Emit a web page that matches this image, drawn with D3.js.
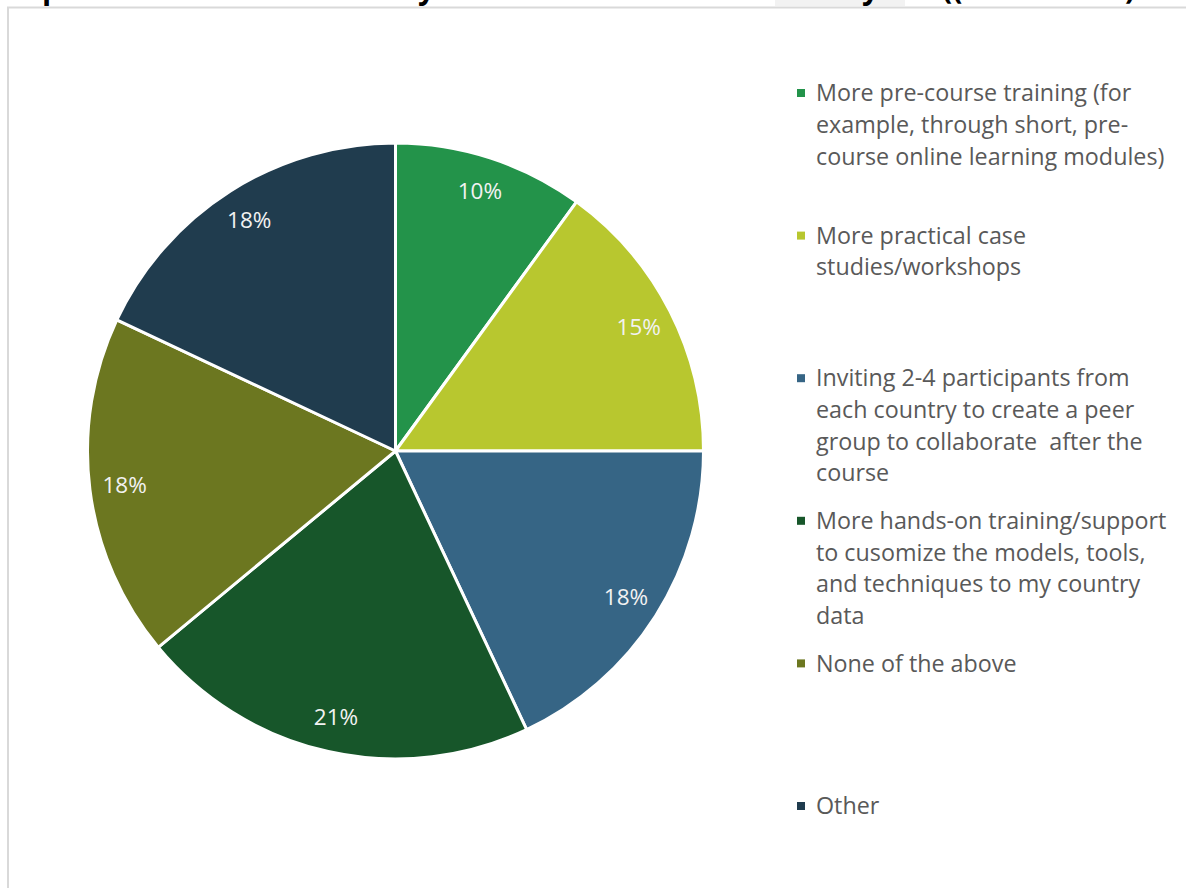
<!DOCTYPE html>
<html><head><meta charset="utf-8">
<script src="https://cdn.jsdelivr.net/npm/d3@7"></script>
<style>html,body{margin:0;padding:0;background:#fff;overflow:hidden}</style>
</head><body>
<svg id="c" width="1186" height="888"></svg>
<script>
const categories = [
  "More pre-course training (for example, through short, pre-course online learning modules)",
  "More practical case studies/workshops",
  "Inviting 2-4 participants from each country to create a peer group to collaborate  after the course",
  "More hands-on training/support to cusomize the models, tools, and techniques to my country data",
  "None of the above",
  "Other"
];
const legendLines = [
  ["More pre-course training (for", "example, through short, pre-", "course online learning modules)"],
  ["More practical case", "studies/workshops"],
  ["Inviting 2-4 participants from", "each country to create a peer", "group to collaborate  after the", "course"],
  ["More hands-on training/support", "to cusomize the models, tools,", "and techniques to my country", "data"],
  ["None of the above"],
  ["Other"]
];
const values = [10, 15, 18, 21, 18, 18];
const labels = ["10%", "15%", "18%", "21%", "18%", "18%"];
const colors = ["#23934A", "#B8C72F", "#366585", "#17562A", "#6C7720", "#203C4E"];

const svg = d3.select("#c");
const font = "'Open Sans', 'Noto Sans', sans-serif";

// clipped title fragments at the very top
svg.append("rect").attr("x", 775).attr("y", 0).attr("width", 130).attr("height", 6).attr("fill", "#F2F2F2");
const frag = [["p", 42], ["y", 418], ["y", 862], ["((", 942], [")", 1125]];
svg.selectAll("text.frag").data(frag).join("text").attr("class", "frag")
  .attr("x", d => d[1]).attr("y", -1).text(d => d[0])
  .attr("font-family", font).attr("font-weight", "bold").attr("font-size", 30).attr("fill", "#000");

// chart border
svg.append("path").attr("d", "M8,900 L8,7.5 L1200,7.5").attr("fill", "none")
  .attr("stroke", "#D9D9D9").attr("stroke-width", 2);

const cx = 395.5, cy = 451, R = 308;
const pie = d3.pie().sort(null).value(d => d)(values);
const arc = d3.arc().innerRadius(0).outerRadius(R);
const labelArc = d3.arc().innerRadius(273).outerRadius(273);
const g = svg.append("g").attr("transform", `translate(${cx},${cy})`);
g.selectAll("path").data(pie).join("path")
  .attr("d", arc).attr("fill", (d, i) => colors[i])
  .attr("stroke", "#fff").attr("stroke-width", 3).attr("stroke-linejoin", "round");
g.selectAll("text").data(pie).join("text")
  .attr("transform", d => `translate(${labelArc.centroid(d)})`)
  .attr("text-anchor", "middle").attr("dy", "0.35em")
  .attr("font-family", font).attr("font-size", 22.5).attr("fill", "#F2F2F2")
  .text((d, i) => labels[i]);

// legend
const ly = d3.scaleLinear().domain([0, 5]).range([93, 806]);
const lg = svg.append("g");
legendLines.forEach((lines, i) => {
  const y0 = ly(i);
  lg.append("rect").attr("x", 797).attr("y", y0 - 4).attr("width", 8).attr("height", 8).attr("fill", colors[i]);
  const t = lg.append("text").attr("font-family", font).attr("font-size", 23.3).attr("fill", "#595959");
  lines.forEach((l, j) => {
    t.append("tspan").attr("x", 816).attr("y", y0 + j * 31.7).attr("dy", "0.35em")
      .attr("xml:space", "preserve").style("white-space", "pre").text(l);
  });
});
</script>
</body></html>
